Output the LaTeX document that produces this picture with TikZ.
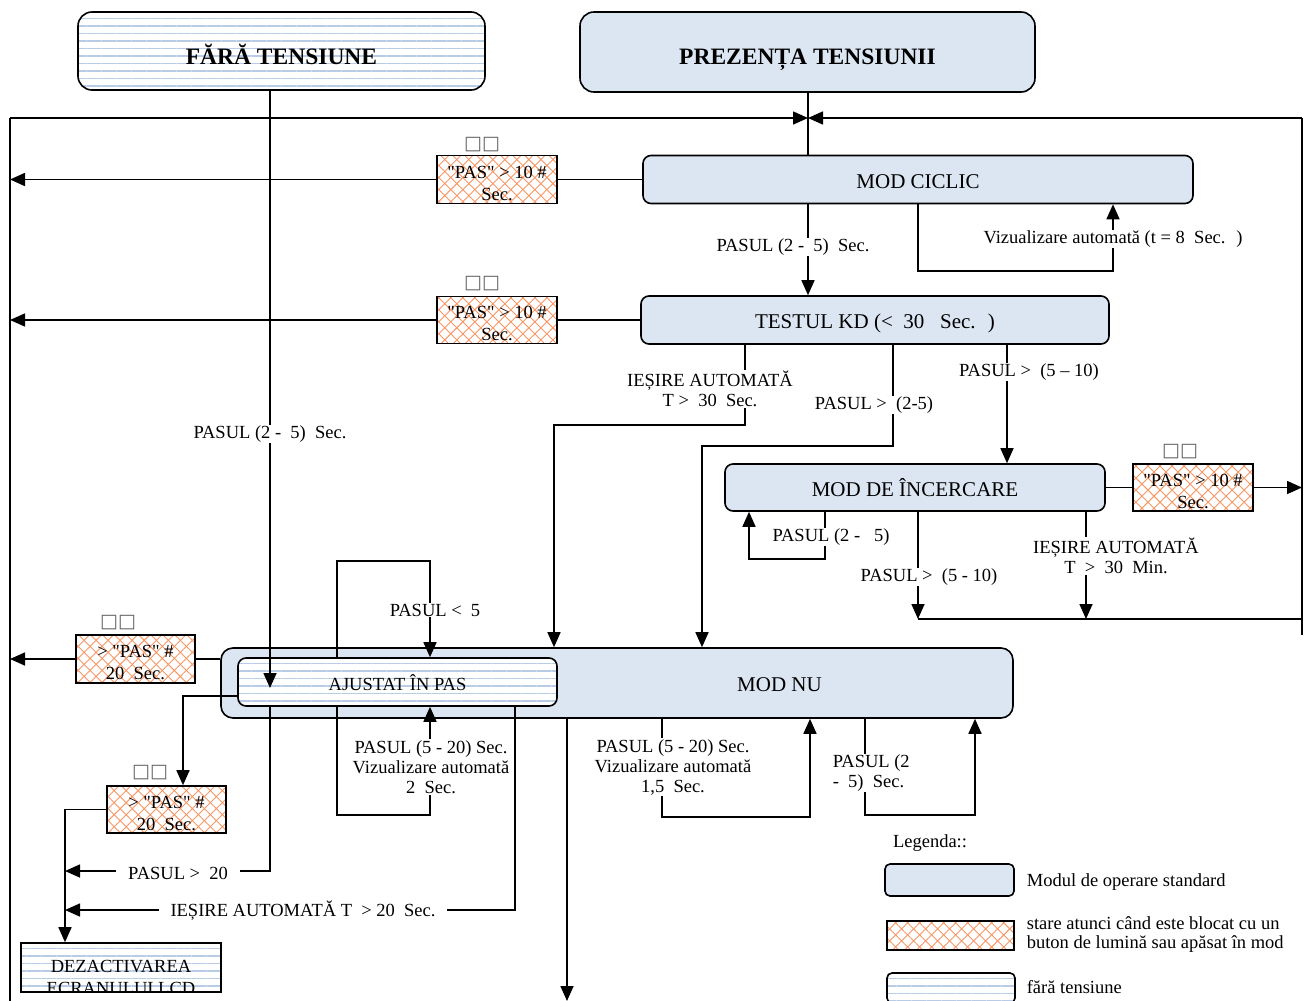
\documentclass[tikz,border=0pt]{standalone}
\usepackage{fontspec}
\setmainfont{Liberation Serif}[Ligatures=TeXOff]
\newfontfamily\symfont{DejaVu Sans}
\usetikzlibrary{arrows.meta,patterns.meta}
\definecolor{boxblue}{RGB}{220,230,242}
\definecolor{stripec}{RGB}{184,204,230}
\definecolor{hatchc}{RGB}{248,150,100}
\newcommand\lblsz{\fontsize{18.5}{20}\selectfont}
\newcommand\hsz{\fontsize{18.5}{22}\selectfont}
\newcommand\boxsz{\fontsize{21}{24}\selectfont}
\newcommand\titlesz{\fontsize{23.5}{26}\selectfont\bfseries}
\newcommand\tofusz{\symfont\fontsize{19}{20}\selectfont}
\newcommand\dq{\symbol{34}}
\tikzset{
  arr/.style={-{Triangle[length=15pt,width=13pt]}},
  stdbox/.style={draw, fill=boxblue, rounded corners=8pt, inner sep=0pt, font=\boxsz, text height=17.5pt, text depth=0pt},
  stripebox/.style={draw, inner sep=0pt, font=\lblsz,
    preaction={fill=white},
    preaction={pattern={Lines[angle=0,distance=7.5pt,line width=1.1pt]}, pattern color=stripec}},
  hatchbox/.style={draw, rectangle, inner sep=0pt,
    preaction={fill=white},
    preaction={pattern={Lines[angle=45,distance=8.5pt,line width=0.9pt]}, pattern color=hatchc},
    preaction={pattern={Lines[angle=-45,distance=8.5pt,line width=0.9pt]}, pattern color=hatchc}},
  htxt/.style={font=\hsz, align=center, inner sep=0pt},
  lbl/.style={font=\lblsz, fill=white, inner sep=1pt, align=center},
  tofu/.style={font=\tofusz, text=black!60, inner sep=0pt},
}
\begin{document}
\begin{tikzpicture}[x=1pt,y=-1pt,line width=1.6pt]
\clip (0,0) rectangle (1304,1001);
\fill[white] (0,0) rectangle (1304,1001);

% ---- main boxes
\node[stripebox, rounded corners=14pt, minimum width=407pt, minimum height=78pt, font=\titlesz, text height=27.5pt, text depth=0pt] (fara) at (281.5,51) {FĂRĂ TENSIUNE};
\node[stdbox, rounded corners=14pt, minimum width=455pt, minimum height=80pt, font=\titlesz, text height=25.5pt, text depth=0pt] (prez) at (807.5,52) {PREZENȚA TENSIUNII};
\node[stdbox, minimum width=550pt, minimum height=48pt] (ciclic) at (918,179.5) {MOD CICLIC};
\node[stdbox, minimum width=468pt, minimum height=48pt] (testkd) at (875,320) {TESTUL KD (<~ 30~~ Sec.~ )};
\node[stdbox, minimum width=380pt, minimum height=47pt] (incerc) at (915,487.5) {MOD DE ÎNCERCARE};
\node[stdbox, rounded corners=12pt, minimum width=792pt, minimum height=70pt] (modnu) at (617,683) {\hspace*{325pt}MOD NU};
\node[stripebox, rounded corners=8pt, minimum width=319pt, minimum height=48pt, text height=16.2pt, text depth=0pt] (ajust) at (397.5,682) {AJUSTAT ÎN PAS};
\node[stripebox, minimum width=200pt, minimum height=49pt] (dezact) at (121,967.5) {};
\begin{scope}
  \clip (22,944) rectangle (220,990);
  \node[font=\hsz, align=center, inner sep=0pt, anchor=north] (dezt) at (121,959.5) {DEZACTIVAREA\\ECRANULUI LCD};
\end{scope}

% ---- hatched boxes
\node[hatchbox, minimum width=120pt, minimum height=48pt] (h1) at (497,179.5) {};
\node[hatchbox, minimum width=120pt, minimum height=47pt] (h2) at (497,320) {};
\node[hatchbox, minimum width=120pt, minimum height=47pt] (h3) at (1193,487.5) {};
\node[hatchbox, minimum width=119pt, minimum height=48pt] (h4) at (135.5,659) {};
\node[hatchbox, minimum width=119pt, minimum height=47pt] (h5) at (166.5,809.5) {};
\node[htxt] (h1t) at (497,183) {\dq PAS\dq{} > 10 \#\\Sec.};
\node[htxt] (h2t) at (497,323) {\dq PAS\dq{} > 10 \#\\Sec.};
\node[htxt] (h3t) at (1193,491) {\dq PAS\dq{} > 10 \#\\Sec.};
\node[htxt] (h4t) at (135.5,662) {> \dq PAS\dq{} \#\\20~ Sec.};
\node[htxt] (h5t) at (166.5,813) {> \dq PAS\dq{} \#\\20~ Sec.};
\node[tofu] (t1) at (482,145) {□□};
\node[tofu] (t2) at (482,284) {□□};
\node[tofu] (t3) at (1180,452) {□□};
\node[tofu] (t4) at (118,623) {□□};
\node[tofu] (t5) at (150,773) {□□};

% ---- frame lines
\coordinate (top) at (808,118);
\coordinate (xL) at (10,0);
\coordinate (xR) at (1302,0);
\coordinate (rb) at (1302,635);
\coordinate (lb) at (10,1001);
\draw[arr] (xL |- top) -- (top);
\draw[arr] (xR |- top) -- (top);
\draw (prez.south -| top) -- (ciclic.north -| top);
\draw (xR |- top) -- (rb);
\draw (xL |- top) -- (lb);

% ---- from FARA TENSIUNE
\coordinate (fa) at (270,688);
\draw[arr] (fara.south -| fa) -- (fa);

% ---- MOD CICLIC
\draw (ciclic.west) -- (h1.east);
\draw[arr] (h1.west) -- (h1.west -| xL);
\draw[arr] (ciclic.south -| top) -- (testkd.north -| top);
\draw[arr] (ciclic.south -| 918,0) |- (1113,271) -- (ciclic.south -| 1113,0);

% ---- TESTUL KD
\draw (testkd.west) -- (h2.east);
\draw[arr] (h2.west) -- (h2.west -| xL);
\draw[arr] (testkd.south -| 745,0) |- (554,425) -- (modnu.north -| 554,0);
\draw[arr] (testkd.south -| 893,0) |- (702,446) -- (modnu.north -| 702,0);
\draw[arr] (testkd.south -| 1007,0) -- (incerc.north -| 1007,0);

% ---- MOD DE INCERCARE
\coordinate (j1) at (918,619);
\coordinate (j2) at (1086,619);
\coordinate (jr) at (1302,619);
\draw (incerc.east) -- (h3.west);
\draw[arr] (h3.east) -- (h3.east -| xR);
\draw[arr] (incerc.south -| 825,0) |- (749,559) -- (incerc.south -| 749,0);
\draw[arr] (incerc.south -| j1) -- (j1);
\draw[arr] (incerc.south -| j2) -- (j2);
\draw (j1) -- (jr);

% ---- MOD NU / AJUSTAT
\draw (h4.east -| modnu.west) -- (h4.east);
\draw[arr] (h4.west) -- (h4.west -| xL);
\draw[arr] (ajust.west |- 0,696) -| (h5.north -| 183,0);
\draw[arr] (h5.west) -| (dezact.north -| 65,0);
\draw[arr] (ajust.north -| 337,0) |- (430,561) -- (ajust.north -| 430,0);
\draw[arr] (ajust.south -| 337,0) |- (430,815) -- (ajust.south -| 430,0);
\coordinate (p20) at (65,871);
\coordinate (ie20) at (65,910);
\draw[arr] (ajust.south -| 270,0) |- (p20);
\draw[arr] (ajust.south -| 515,0) |- (ie20);
\coordinate (bt) at (567,1001);
\draw[arr] (modnu.south -| bt) -- (bt);
\draw[arr] (modnu.south -| 662,0) |- (810,817) -- (modnu.south -| 810,0);
\draw[arr] (modnu.south -| 865,0) |- (975,815) -- (modnu.south -| 975,0);

% ---- labels
\node[lbl] (l1) at (270,434) {PASUL (2 -~ 5)~ Sec.};
\node[lbl] (l2) at (793,247) {PASUL (2 -~ 5)~ Sec.};
\node[lbl] (l3) at (1113,239) {Vizualizare automată (t = 8~ Sec.~ )};
\node[lbl] (l4) at (710,389) {IEȘIRE AUTOMATĂ\\T >~ 30~ Sec.};
\node[lbl] (l5) at (874,405) {PASUL >~ (2-5)};
\node[lbl] (l6) at (1029,372) {PASUL >~ (5 – 10)};
\node[lbl] (l7) at (831,537) {PASUL (2 -~~ 5)};
\node[lbl] (l8) at (929,577) {PASUL >~ (5 - 10)};
\node[lbl] (l9) at (1116,556) {IEȘIRE AUTOMATĂ\\T~ >~ 30~ Min.};
\node[lbl] (l10) at (435,610) {PASUL <~ 5};
\node[lbl] (l11) at (431,767) {PASUL (5 - 20) Sec.\\Vizualizare automată\\2~ Sec.};
\node[lbl] (l12) at (673,767) {PASUL (5 - 20) Sec.\\Vizualizare automată\\1,5~ Sec.};
\node[lbl, align=left, anchor=west] (l13) at (831,773) {PASUL (2\\-~ 5)~ Sec.};
\node[lbl, inner xsep=12pt] (l14) at (178,873) {PASUL >~ 20};
\node[lbl, inner xsep=12pt] (l15) at (303,911) {IEȘIRE AUTOMATĂ T~ > 20~ Sec.};

% ---- legend
\node[font=\lblsz, inner sep=0pt] (leg) at (930,843) {Legenda::};
\node[draw, fill=boxblue, rounded corners=5pt, minimum width=129pt, minimum height=32pt, inner sep=0pt] (lb1) at (949.5,880) {};
\node[font=\lblsz, anchor=west, inner sep=0pt] (lt1) at (1026,882) {Modul de operare standard};
\node[hatchbox, minimum width=127pt, minimum height=29pt] (lb2) at (950.5,935.5) {};
\begin{scope}
  \clip (1020,905) rectangle (1304,953);
  \node[font=\fontsize{18.5}{19}\selectfont, align=left, anchor=north west, inner sep=0pt] (lt2) at (1026,916) {stare atunci când este blocat cu un\\buton de lumină sau apăsat în mod\\constant};
\end{scope}
\node[stripebox, rounded corners=5pt, minimum width=128pt, minimum height=30pt] (lb3) at (951,988) {};
\node[font=\lblsz, anchor=west, inner sep=0pt] (lt3) at (1026,987) {fără tensiune};
\end{tikzpicture}
\end{document}
